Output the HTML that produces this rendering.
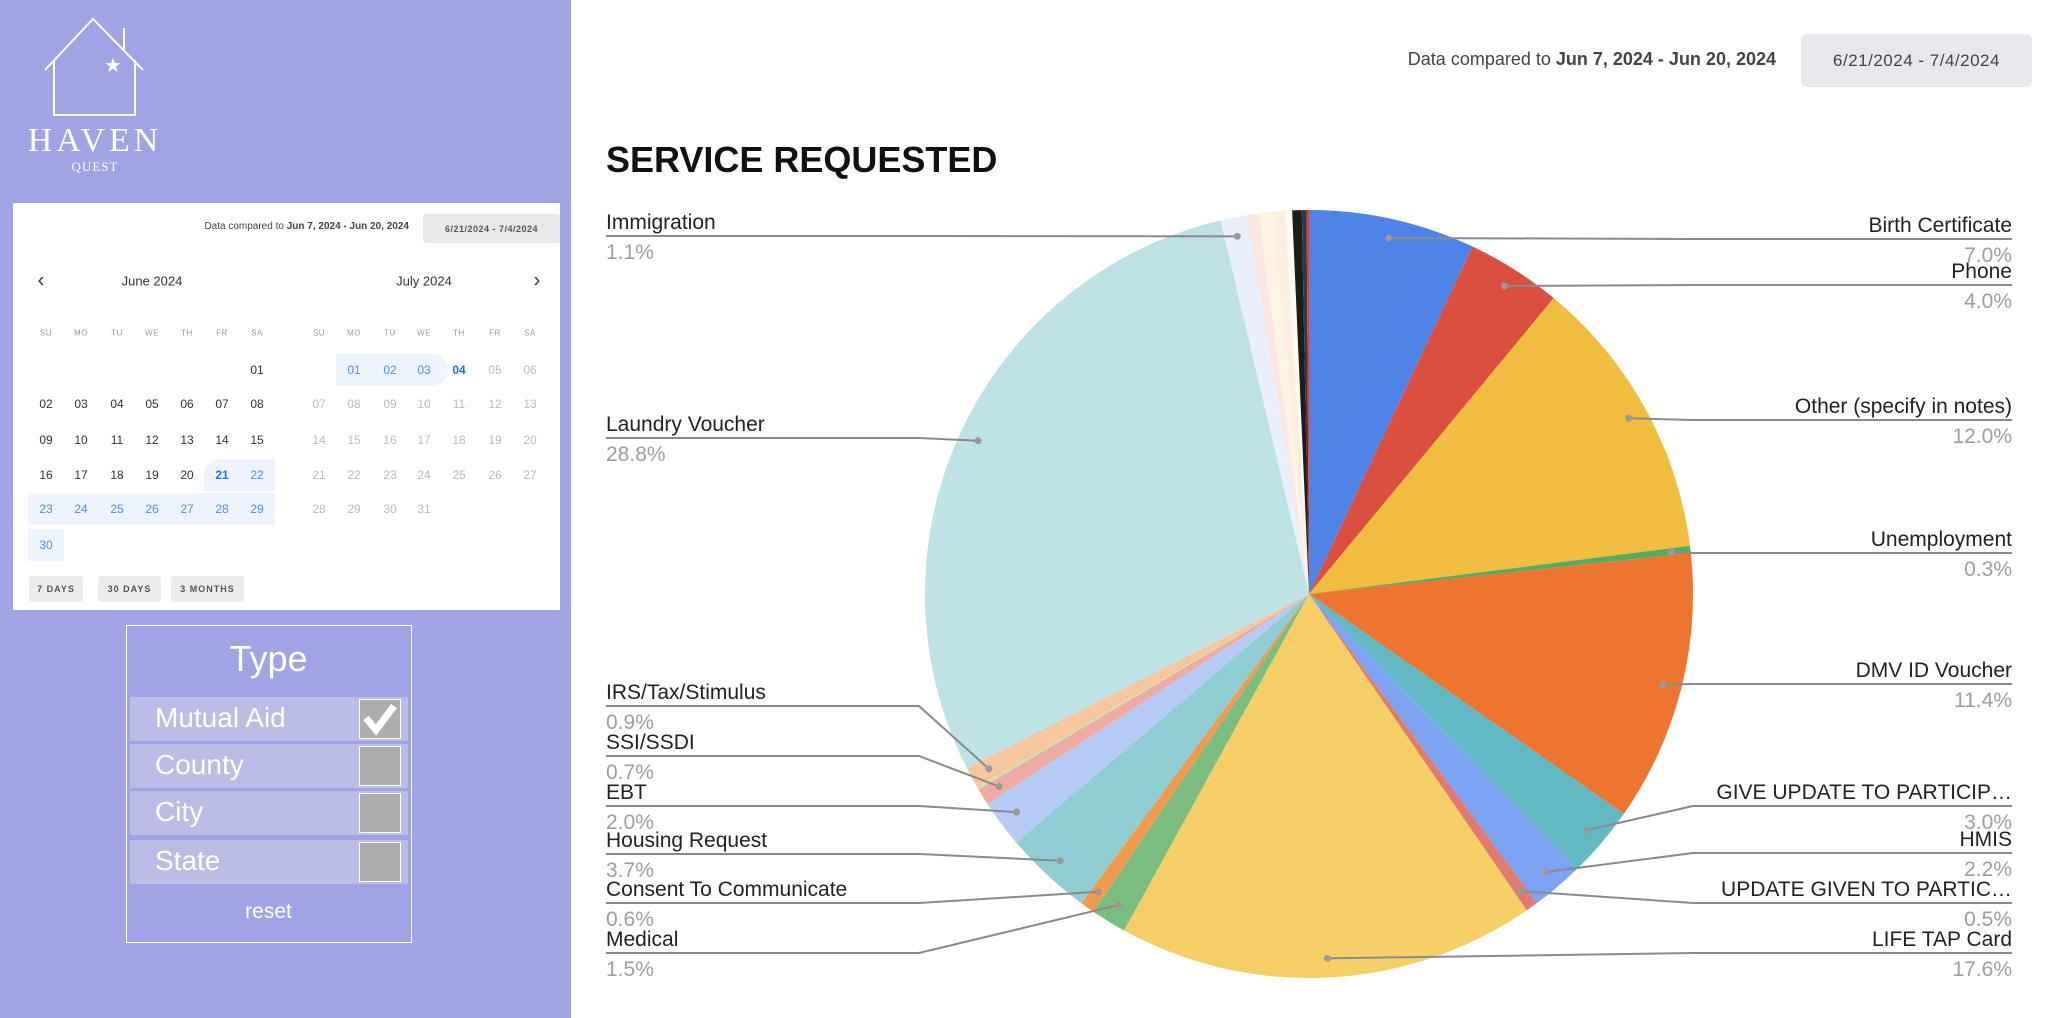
<!DOCTYPE html>
<html><head><meta charset="utf-8">
<style>
*{box-sizing:border-box;margin:0;padding:0}
body{width:2058px;height:1018px;position:relative;background:#fff;font-family:"Liberation Sans",sans-serif;overflow:hidden}
.abs{position:absolute}
#sidebar{left:0;top:0;width:571px;height:1018px;background:#a0a4e4}
#cal{left:13px;top:203px;width:547px;height:407px;background:#fff}
.cal-t{position:absolute;font-size:12px;color:#333;transform:translate(-50%,-50%);white-space:nowrap}
.hl{position:absolute;background:#eef4fd}
.btn{position:absolute;background:#ececec;border-radius:3px;font-size:9px;font-weight:bold;color:#555;display:flex;align-items:center;justify-content:center;letter-spacing:1px}
#typebox{left:126px;top:625px;width:286px;height:318px;border:1.5px solid #fff}
.row{position:absolute;left:3px;width:278px;height:44px;background:#bbbde6}
.row span{position:absolute;left:25px;top:5px;font-size:28px;color:#fff}
.cb{position:absolute;left:229px;top:2px;width:42px;height:40px;background:#aeaeae;border:1.5px solid #fff}
</style></head>
<body>
<div id="sidebar" class="abs">
  <svg class="abs" style="left:0;top:0" width="200" height="190">
    <polyline points="45,70 93,19 143,70" fill="none" stroke="#fff" stroke-width="2"/>
    <polyline points="54,60 54,115 135,115 135,60" fill="none" stroke="#fff" stroke-width="2"/>
    <line x1="124" y1="28" x2="124" y2="51" stroke="#fff" stroke-width="2"/>
    <text x="113" y="72" font-size="20" fill="#fff" text-anchor="middle" font-family="DejaVu Sans">★</text>
    <text x="95" y="151" font-size="34" fill="#fff" text-anchor="middle" font-family="Liberation Serif" letter-spacing="4">HAVEN</text>
    <text x="95" y="171" font-size="13" fill="#fff" text-anchor="middle" font-family="Liberation Serif" letter-spacing="1">QUEST</text>
  </svg>
  <div id="cal" class="abs"></div>
  <div id="typebox" class="abs">
    <div class="abs" style="left:0;width:283px;top:12px;text-align:center;font-size:36px;color:#fff">Type</div>
    <div class="row" style="top:71px"><span>Mutual Aid</span><div class="cb"><svg width="40" height="38"><polyline points="6,18 16,30 34,6" fill="none" stroke="#fff" stroke-width="7"/></svg></div></div>
    <div class="row" style="top:118px"><span>County</span><div class="cb"></div></div>
    <div class="row" style="top:165px"><span>City</span><div class="cb"></div></div>
    <div class="row" style="top:214px"><span>State</span><div class="cb"></div></div>
    <div class="abs" style="left:0;width:283px;top:274px;text-align:center;font-size:21px;color:#fff">reset</div>
  </div>
</div>

<div class="abs" style="right:282px;top:49px;font-size:18px;color:#444;white-space:nowrap">Data compared to <b>Jun 7, 2024 - Jun 20, 2024</b></div>
<div class="abs" style="left:1801px;top:34px;width:231px;height:53px;background:#e6e8ec;border-radius:6px;font-size:17px;color:#444;display:flex;align-items:center;justify-content:center;letter-spacing:0.5px">6/21/2024 - 7/4/2024</div>
<div class="abs" style="left:606px;top:139px;font-size:36px;font-weight:bold;color:#111">SERVICE REQUESTED</div>

<svg id="chart" class="abs" style="left:0;top:0" width="2058" height="1018"></svg>

<script>
const labels = ["Birth Certificate","Phone","Other (specify in notes)","Unemployment","DMV ID Voucher","GIVE UPDATE TO PARTICIP…","HMIS","UPDATE GIVEN TO PARTIC…","LIFE TAP Card","Medical","Consent To Communicate","Housing Request","EBT","SSI/SSDI","Misc A","IRS/Tax/Stimulus","Laundry Voucher","Immigration","Misc B","Misc C","Misc D","Misc E","Misc F","Misc G","Misc H"];
const values = [7.0,4.0,12.0,0.3,11.4,3.0,2.2,0.5,17.6,1.5,0.6,3.7,2.0,0.7,0.1,0.9,28.8,1.1,0.5,0.6,0.5,0.3,0.4,0.2,0.1];
const pctLabels = ["7.0%","4.0%","12.0%","0.3%","11.4%","3.0%","2.2%","0.5%","17.6%","1.5%","0.6%","3.7%","2.0%","0.7%","","0.9%","28.8%","1.1%","","","","","","",""];
const colors = ["#4e84e8","#db4f3f","#f1bd41","#57ab5b","#ee7530","#62b9c3","#7ca4f2","#e27a70","#f5cf66","#7bbd80","#f1994c","#8ecdd2","#b6cbf5","#eeaba4","#c6e5a8","#f6c79c","#bde3e6","#e9effc","#fbe6e4","#fef4e2","#fdeee0","#fffaf2","#1c1c1c","#2a3b48","#e53935"];
const slots = {0:["R",239],1:["R",285],2:["R",420],3:["R",553],4:["R",684],5:["R",806],6:["R",853],7:["R",903],8:["R",953],9:["L",953],10:["L",903],11:["L",854],12:["L",806],13:["L",756],15:["L",706],16:["L",438],17:["L",236]};

const NS="http://www.w3.org/2000/svg";
const svg=document.getElementById('chart');
const cx=1309, cy=594, R=384;
const total=values.reduce((a,b)=>a+b,0);
function ang(v){return v/total*2*Math.PI;}
function pt(a,r){return [cx+Math.sin(a)*r, cy-Math.cos(a)*r];}
let acc=0;
values.forEach((v,i)=>{
  const a0=ang(acc), a1=ang(acc+v); acc+=v;
  const p0=pt(a0,R), p1=pt(a1,R);
  const large=(a1-a0)>Math.PI?1:0;
  const p=document.createElementNS(NS,'path');
  p.setAttribute('d',`M${cx},${cy}L${p0[0]},${p0[1]}A${R},${R} 0 ${large} 1 ${p1[0]},${p1[1]}Z`);
  p.setAttribute('fill',colors[i]);
  
  
  svg.appendChild(p);
});
acc=0;
values.forEach((v,i)=>{
  const mid=ang(acc+v/2); acc+=v;
  const s=slots[i]; if(!s) return;
  const d=pt(mid,R*0.95);
  const side=s[0], ly=s[1];
  const edge= side==="R"?2012:606;
  const bx= side==="R"?Math.max(d[0],1693):Math.min(d[0],919);
  const pl=document.createElementNS(NS,'polyline');
  pl.setAttribute('points',`${d[0]},${d[1]} ${bx},${ly} ${edge},${ly}`);
  pl.setAttribute('fill','none');pl.setAttribute('stroke','#8a8a8a');pl.setAttribute('stroke-width','2');
  
  
  svg.appendChild(pl);
  const c=document.createElementNS(NS,'circle');
  c.setAttribute('cx',d[0]);c.setAttribute('cy',d[1]);c.setAttribute('r','3.5');c.setAttribute('fill','#999');
  
  
  svg.appendChild(c);
  const t=document.createElementNS(NS,'text');
  t.setAttribute('x',edge);t.setAttribute('y',ly-7);t.setAttribute('font-size','21');t.setAttribute('fill','#222');
  t.setAttribute('text-anchor',side==="R"?'end':'start');
  t.textContent=labels[i];
  
  
  svg.appendChild(t);
  const t2=document.createElementNS(NS,'text');
  t2.setAttribute('x',edge);t2.setAttribute('y',ly+23);t2.setAttribute('font-size','21');t2.setAttribute('fill','#9e9e9e');
  t2.setAttribute('text-anchor',side==="R"?'end':'start');
  t2.textContent=pctLabels[i];
  
  
  svg.appendChild(t2);
});

const cal=document.getElementById('cal');
function add(html,x,y,style,name,inter){
  const e=document.createElement('div');
  e.className='cal-t';e.style.left=x+'px';e.style.top=y+'px';
  if(style)e.style.cssText+=style;
  e.innerHTML=html;
  
  
  cal.appendChild(e);return e;
}
function hl(x,y,w,h,br,name){
  const e=document.createElement('div');e.className='hl';
  e.style.cssText=`left:${x}px;top:${y}px;width:${w}px;height:${h}px;border-radius:${br}`;
  
  
  cal.appendChild(e);
}
const ox=13, oy=203;
const hdr=document.createElement('div');
hdr.style.cssText='position:absolute;right:151px;top:18px;font-size:10px;color:#444;white-space:nowrap';
hdr.innerHTML='Data compared to <b>Jun 7, 2024 - Jun 20, 2024</b>';


cal.appendChild(hdr);
const b=document.createElement('div');b.className='btn';b.style.cssText='left:410px;top:11px;width:137px;height:29px;background:#e8e8ea;font-size:9px;letter-spacing:0.5px';b.textContent='6/21/2024 - 7/4/2024';


cal.appendChild(b);
const jx=[46,81,117,152,187,222,257].map(v=>v-ox);
const ux=[319,354,390,424,459,495,530].map(v=>v-ox);
const ry=[370,404,440,475,509,545].map(v=>v-oy);
const hy=333-oy;
hl(ux[1]-18,ry[0]-16,ux[3]-ux[1]+36+6,32,'0 16px 16px 0','july-range-highlight');
hl(jx[5]-18,ry[3]-16,jx[6]-jx[5]+36,32,'16px 0 0 0','june-range-highlight-a');
hl(jx[0]-18,ry[4]-16,jx[6]-jx[0]+36,32,'0','june-range-highlight-b');
hl(jx[0]-18,ry[5]-16,36,32,'0','june-range-highlight-c');
add('‹',41-ox,281-oy,'font-size:20px;color:#333','prev-month-button','true');
add('›',537-ox,281-oy,'font-size:20px;color:#333','next-month-button','true');
add('June 2024',152-ox,281-oy,'font-size:13px;color:#333','june-title','false');
add('July 2024',424-ox,281-oy,'font-size:13px;color:#333','july-title','false');
const dn=['SU','MO','TU','WE','TH','FR','SA'];
dn.forEach((d,i)=>{add(d,jx[i],hy,'font-size:8px;color:#999;letter-spacing:0.5px','weekday-header','false');add(d,ux[i],hy,'font-size:8px;color:#999;letter-spacing:0.5px','weekday-header','false');});
for(let d=1;d<=30;d++){
  const idx=d+5; const c=idx%7, r=Math.floor(idx/7);
  let st='color:#333';
  if(d>=21) st='color:#4a90f0';
  if(d===21) st='color:#1a73e8;font-weight:bold';
  add(String(d).padStart(2,'0'),jx[c],ry[r],st,'june-day','true');
}
for(let d=1;d<=31;d++){
  const idx=d; const c=idx%7, r=Math.floor(idx/7);
  let st='color:#bbb';
  if(d<=4) st='color:#4a90f0';
  if(d===4) st='color:#1a73e8;font-weight:bold';
  add(String(d).padStart(2,'0'),ux[c],ry[r],st,'july-day','true');
}
[['7 DAYS',29,83],['30 DAYS',98,161],['3 MONTHS',171,244]].forEach(q=>{
  const e=document.createElement('div');e.className='btn';
  e.style.cssText=`left:${q[1]-ox}px;top:${576-oy}px;width:${q[2]-q[1]}px;height:26px`;
  e.textContent=q[0];
  
  
  cal.appendChild(e);
});
</script>
</body></html>
